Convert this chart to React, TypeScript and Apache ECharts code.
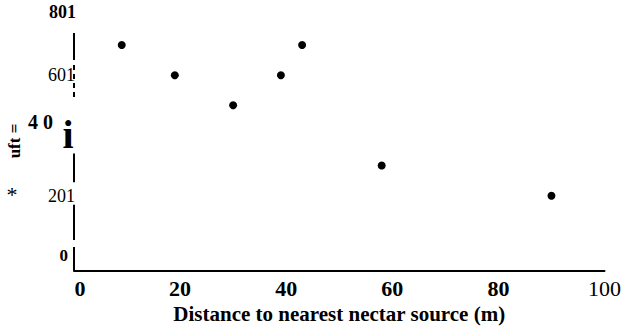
import React, { useEffect, useRef } from "react";
import * as echarts from "echarts";

const distances = [9, 19, 30, 39, 43, 58, 90];
const counts = [70, 60, 50, 60, 70, 30, 20];

const xTickValues = [0, 20, 40, 60, 80, 100];
const xTickTexts = ["0", "20", "40", "60", "80", "100"];
const xTickStyles = ["z", "b", "b", "b", "b", "n"];

const yTickValues = [0, 20, 40, 60];
const yTickTexts = ["0", "201", "4 0", "601"];
const yTickStyles = ["z", "n", "f", "n"];
const yTopLabel = "801";

// visible pieces of the (broken, scanned) vertical axis line, in axis values
const yAxisSolidPieces = [
  [74, 65],
  [34, 24.5],
  [17, 5.3],
  [3, -5],
];
const yAxisDashedPieces = [[63.4, 51.8]];

const xTitle = "Distance to nearest nectar source (m)";
const yTitle = "uft =";

const SERIF = "'Liberation Serif', 'Times New Roman', serif";

export default function App() {
  const ref = useRef<HTMLDivElement>(null);
  useEffect(() => {
    if (!ref.current) return;
    const chart = echarts.init(ref.current, undefined, { renderer: "svg" });
    const piece = (p: number[], dashed: boolean) => [
      {
        coord: [0, p[0]],
        lineStyle: { color: "#000", width: 2, type: dashed ? [5, 4] : "solid" },
      },
      { coord: [0, p[1]] },
    ];
    chart.setOption({
      animation: false,
      backgroundColor: "#ffffff",
      textStyle: { fontFamily: SERIF, color: "#000" },
      grid: { left: 74, right: 19, top: 33, bottom: 61, containLabel: false },
      xAxis: {
        type: "value",
        min: 0,
        max: 100,
        interval: 20,
        name: xTitle,
        nameLocation: "middle",
        nameGap: 32,
        nameTextStyle: { fontFamily: SERIF, fontWeight: "bold", fontSize: 21, color: "#000" },
        axisLine: { show: true, onZero: false, lineStyle: { color: "#000", width: 2 } },
        axisTick: { show: false },
        splitLine: { show: false },
        axisLabel: {
          margin: 6,
          formatter: (v: number) => {
            const i = xTickValues.indexOf(v);
            if (i < 0) return "";
            return "{" + xTickStyles[i] + "|" + xTickTexts[i] + "}";
          },
          rich: {
            z: { fontFamily: SERIF, fontWeight: "bold", fontSize: 22, color: "#000", padding: [0, 0, 0, 12] },
            b: { fontFamily: SERIF, fontWeight: "bold", fontSize: 22, color: "#000" },
            n: { fontFamily: SERIF, fontWeight: "normal", fontSize: 22, color: "#000" },
          },
        },
      },
      yAxis: {
        type: "value",
        min: -5,
        max: 74,
        interval: 5,
        name: yTopLabel,
        nameLocation: "end",
        nameGap: 12,
        nameTextStyle: {
          fontFamily: SERIF,
          fontWeight: "bold",
          fontSize: 18,
          color: "#000",
          align: "right",
          verticalAlign: "bottom",
          padding: [0, -2, 0, 0],
        },
        axisLine: { show: false, onZero: false },
        axisTick: { show: false },
        splitLine: { show: false },
        axisLabel: {
          margin: -1,
          formatter: (v: number) => {
            const i = yTickValues.indexOf(v);
            if (i < 0) return "";
            return "{" + yTickStyles[i] + "|" + yTickTexts[i] + "}";
          },
          rich: {
            z: { fontFamily: SERIF, fontWeight: "bold", fontSize: 17, color: "#000", padding: [0, 7, 0, 0] },
            n: { fontFamily: SERIF, fontWeight: "normal", fontSize: 18, color: "#000" },
            f: { fontFamily: SERIF, fontWeight: "bold", fontSize: 20, color: "#000", padding: [0, 22, 27, 0] },
          },
        },
      },
      graphic: [
        {
          type: "text",
          x: 14,
          y: 141,
          rotation: Math.PI / 2,
          style: {
            text: yTitle,
            fontFamily: SERIF,
            fontWeight: "bold",
            fontSize: 17,
            fill: "#000",
            align: "center",
            verticalAlign: "middle",
          },
        },
        {
          type: "text",
          x: 12,
          y: 194,
          style: {
            text: "*",
            fontFamily: SERIF,
            fontSize: 22,
            fill: "#000",
            align: "center",
            verticalAlign: "middle",
          },
        },
        {
          type: "text",
          x: 68,
          y: 134,
          style: {
            text: "i",
            fontFamily: SERIF,
            fontWeight: "bold",
            fontSize: 40,
            fill: "#000",
            align: "center",
            verticalAlign: "middle",
          },
        },
      ],
      series: [
        {
          type: "scatter",
          data: distances.map((d, i) => [d, counts[i]]),
          symbol: "circle",
          symbolSize: 8,
          itemStyle: { color: "#000", opacity: 1 },
          markLine: {
            silent: true,
            symbol: ["none", "none"],
            label: { show: false },
            emphasis: { disabled: true },
            data: [
              ...yAxisSolidPieces.map((p) => piece(p, false)),
              ...yAxisDashedPieces.map((p) => piece(p, true)),
            ],
          },
        },
      ],
    });
    return () => chart.dispose();
  }, []);
  return <div ref={ref} style={{ width: 624, height: 332, position: "absolute", left: 0, top: 0 }} />;
}
